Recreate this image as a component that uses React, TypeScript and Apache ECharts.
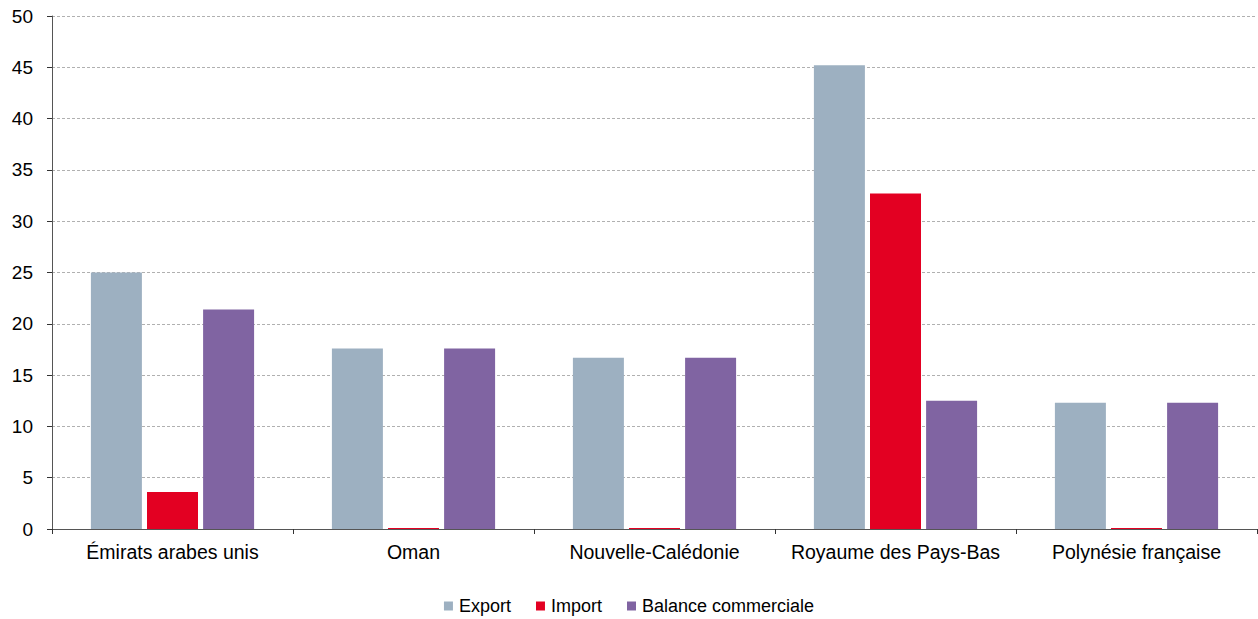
import React, { useEffect, useRef } from "react";
import * as echarts from "echarts";

const categories = ["Émirats arabes unis", "Oman", "Nouvelle-Calédonie", "Royaume des Pays-Bas", "Polynésie française"];
const exportValues = [25.0, 17.6, 16.7, 45.2, 12.3];
const importValues = [3.6, 0.1, 0.1, 32.7, 0.1];
const balanceValues = [21.4, 17.6, 16.7, 12.5, 12.3];
const seriesNames = ["Export", "Import", "Balance commerciale"];
const colors = ["#9DB0C1", "#E30022", "#8064A2"];

export default function App() {
  const ref = useRef<HTMLDivElement>(null);
  useEffect(() => {
    if (!ref.current) return;
    const chart = echarts.init(ref.current, undefined, { renderer: "svg" });
    const font = "'Liberation Sans', Arial, sans-serif";
    const mk = (i: number, data: number[]) => ({
      name: seriesNames[i],
      type: "bar",
      data,
      barWidth: 51,
      barGap: "10%",
      itemStyle: { color: colors[i] },
    });
    chart.setOption({
      animation: false,
      textStyle: { fontFamily: font },
      grid: { left: 52, right: 1, top: 16, bottom: 90, containLabel: false },
      legend: {
        top: 595,
        left: "center",
        padding: [2, 5, 2, 5],
        itemWidth: 9,
        itemHeight: 9,
        itemGap: 25,
        icon: "rect",
        textStyle: { fontSize: 18, color: "#000", fontFamily: font, padding: [0, 0, 0, 1] },
        data: seriesNames,
      },
      xAxis: {
        type: "category",
        data: categories,
        axisLine: { lineStyle: { color: "#555", width: 1 } },
        axisTick: { show: true, length: 5, lineStyle: { color: "#333" } },
        axisLabel: { color: "#000", fontSize: 19.5, margin: 13, interval: 0, fontFamily: font },
      },
      yAxis: {
        type: "value",
        min: 0,
        max: 50,
        interval: 5,
        axisLine: { show: true, lineStyle: { color: "#555", width: 1 } },
        axisTick: { show: true, length: 5, lineStyle: { color: "#333" } },
        axisLabel: { color: "#000", fontSize: 19, margin: 19, fontFamily: font },
        splitLine: { show: true, lineStyle: { color: "#b0b0b0", type: [3, 2], width: 1 } },
      },
      series: [mk(0, exportValues), mk(1, importValues), mk(2, balanceValues)],
    });
    return () => chart.dispose();
  }, []);
  return <div ref={ref} style={{ position: "fixed", left: 0, top: 0, width: 1258, height: 619, background: "#fff" }} />;
}
